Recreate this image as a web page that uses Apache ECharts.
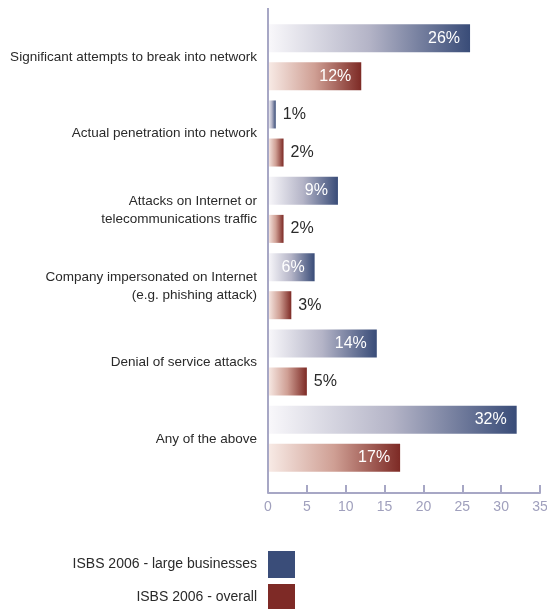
<!DOCTYPE html>
<html>
<head>
<meta charset="utf-8">
<script src="https://cdn.jsdelivr.net/npm/echarts@6/dist/echarts.min.js"></script>
<style>
  html, body { margin: 0; padding: 0; background: #fff; }
  #chart { width: 547px; height: 609px; }
</style>
</head>
<body>
<div id="chart"></div>
<script>
var categories = [
  'Significant attempts to break into network',
  'Actual penetration into network',
  'Attacks on Internet or\ntelecommunications traffic',
  'Company impersonated on Internet\n(e.g. phishing attack)',
  'Denial of service attacks',
  'Any of the above'
];
var largeBusinesses = [26, 1, 9, 6, 14, 32];
var overall = [12, 2, 2, 3, 5, 17];
var seriesNames = ['ISBS 2006 - large businesses', 'ISBS 2006 - overall'];

var font = '"Liberation Sans", Arial, sans-serif';
var axisColor = '#a7a7c5';

function grad(c0, c1, c2) {
  return new echarts.graphic.LinearGradient(0, 0, 1, 0, [
    { offset: 0, color: c0 },
    { offset: 0.5, color: c1 },
    { offset: 1, color: c2 }
  ]);
}

// bars >= 6 get label inside in white, others outside in dark
function withLabels(values) {
  return values.map(function (v) {
    var inside = v >= 6;
    return {
      value: v,
      label: {
        position: inside ? 'insideRight' : 'right',
        distance: inside ? 10 : 7,
        color: inside ? '#ffffff' : '#2a2a2a'
      }
    };
  });
}

function legendFor(name, color, top) {
  return {
    orient: 'vertical',
    right: 252,
    top: top,
    padding: 0,
    align: 'right',
    itemWidth: 27,
    itemHeight: 27,
    icon: 'rect',
    textStyle: { fontFamily: font, fontSize: 14, color: '#2a2a2a', padding: [0, 6, 0, 0] },
    data: [{ name: name, itemStyle: { color: color } }]
  };
}

var myChart = echarts.init(document.getElementById('chart'));
var option = {
  animation: false,
  textStyle: { fontFamily: font },
  grid: { left: 268, right: 7, top: 19, height: 458, containLabel: false, outerBoundsMode: 'none' },
  legend: [
    legendFor(seriesNames[0], '#3a4d79', 551),
    legendFor(seriesNames[1], '#7e2a26', 584)
  ],
  xAxis: {
    type: 'value',
    min: 0,
    max: 35,
    interval: 5,
    offset: 16,
    splitLine: { show: false },
    axisLine: { show: true, lineStyle: { color: axisColor, width: 2 } },
    axisTick: { show: true, inside: true, length: 8, lineStyle: { color: axisColor, width: 2 } },
    axisLabel: { color: '#a0a0bd', fontSize: 14, fontFamily: font, margin: 7 }
  },
  yAxis: {
    type: 'category',
    inverse: true,
    data: categories,
    axisLine: { show: false },
    axisTick: { show: false },
    axisLabel: { color: '#2a2a2a', fontSize: 13.5, fontFamily: font, margin: 11, lineHeight: 18 }
  },
  graphic: [{
    type: 'line',
    shape: { x1: 268, y1: 8, x2: 268, y2: 493 },
    style: { stroke: axisColor, lineWidth: 2 },
    z: 10
  }],
  series: [
    {
      name: seriesNames[0],
      type: 'bar',
      barWidth: 28,
      barGap: '36%',
      data: withLabels(largeBusinesses),
      label: { show: true, formatter: '{c}%', fontSize: 16, fontFamily: font },
      itemStyle: { color: grad('#f9f8fb', '#b4b4c7', '#394c78') }
    },
    {
      name: seriesNames[1],
      type: 'bar',
      barWidth: 28,
      data: withLabels(overall),
      label: { show: true, formatter: '{c}%', fontSize: 16, fontFamily: font },
      itemStyle: { color: grad('#f8ebe6', '#cf9f94', '#7d2a25') }
    }
  ]
};
myChart.setOption(option, true);
</script>
</body>
</html>
